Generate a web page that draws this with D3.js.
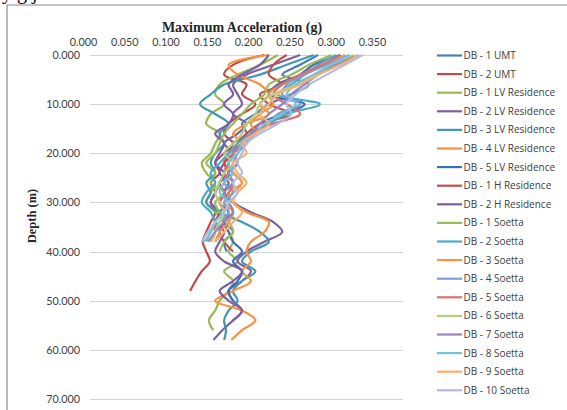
<!DOCTYPE html>
<html>
<head>
<meta charset="utf-8">
<script src="https://cdn.jsdelivr.net/npm/d3@7"></script>
<style>
  body { margin: 0; background: #fff; }
  svg { display: block; }
</style>
</head>
<body>
<div id="chart"></div>
<script>
/* CONSTANTS */
const width = 567,
  height = 410,
  margin = { top: 55, left: 90, right: 164, bottom: 11 };

// depth steps (m) shared by every series, each series stops where its values stop
const depths = [0, 2, 4, 6, 8, 10, 12, 14, 16, 18, 20, 22, 24, 26, 28, 30, 32, 34, 36, 38,
  40, 42, 44, 46, 48, 50, 52, 54, 56, 58];

const seriesNames = ["DB - 1 UMT", "DB - 2 UMT", "DB - 1 LV Residence", "DB - 2 LV Residence",
  "DB - 3 LV Residence", "DB - 4 LV Residence", "DB - 5 LV Residence", "DB - 1 H Residence",
  "DB - 2 H Residence", "DB - 1 Soetta", "DB - 2 Soetta", "DB - 3 Soetta", "DB - 4 Soetta",
  "DB - 5 Soetta", "DB - 6 Soetta", "DB - 7 Soetta", "DB - 8 Soetta", "DB - 9 Soetta",
  "DB - 10 Soetta"];

const seriesColors = ["#4a7ebb", "#be4b48", "#98b954", "#7d60a0", "#4198af", "#f69240",
  "#3c6fb6", "#c0504d", "#7b5ea3", "#9bbb59", "#49acc6", "#f79646", "#7e9fd4", "#d9706d",
  "#b5cf82", "#9a85b8", "#72c4dc", "#f9ae71", "#aebee0"];

// max acceleration (g) at each depth step
const db1UMT = [0.255, 0.235, 0.215, 0.245, 0.225, 0.2, 0.185, 0.17, 0.175, 0.16, 0.155, 0.15, 0.16, 0.145, 0.15, 0.155, 0.145, 0.15, 0.16, 0.15, 0.153];
const db2UMT = [0.195, 0.16, 0.15, 0.175, 0.17, 0.185, 0.17, 0.155, 0.15, 0.16, 0.15, 0.14, 0.145, 0.135, 0.14, 0.135, 0.14, 0.135, 0.13, 0.126, 0.13, 0.134, 0.125, 0.118, 0.112];
const db1LV = [0.21, 0.19, 0.165, 0.145, 0.14, 0.15, 0.135, 0.13, 0.145, 0.14, 0.135, 0.125, 0.13, 0.14, 0.135, 0.13, 0.14, 0.15, 0.155, 0.16, 0.155, 0.165, 0.15, 0.16, 0.155, 0.145, 0.14, 0.133, 0.138];
const db2LV = [0.235, 0.205, 0.175, 0.16, 0.165, 0.17, 0.16, 0.175, 0.165, 0.15, 0.16, 0.15, 0.145, 0.155, 0.15, 0.16, 0.18, 0.205, 0.215, 0.195, 0.175, 0.165, 0.18, 0.17, 0.155, 0.16, 0.17, 0.16, 0.148, 0.138];
const db3LV = [0.25, 0.22, 0.19, 0.15, 0.135, 0.123, 0.14, 0.155, 0.145, 0.15, 0.14, 0.135, 0.14, 0.13, 0.135, 0.13, 0.145, 0.17, 0.19, 0.2, 0.18, 0.17, 0.185, 0.17, 0.16, 0.165, 0.155, 0.15, 0.152, 0.15];
const db4LV = [0.2, 0.155, 0.165, 0.19, 0.2, 0.19, 0.2, 0.175, 0.16, 0.17, 0.155, 0.15, 0.16, 0.17, 0.155, 0.16, 0.175, 0.2, 0.195, 0.18, 0.175, 0.18, 0.17, 0.18, 0.16, 0.14, 0.17, 0.185, 0.17, 0.158];
const db5LV = [0.28, 0.25, 0.235, 0.21, 0.2, 0.24, 0.215, 0.19, 0.18, 0.17, 0.16, 0.165, 0.155, 0.16, 0.15, 0.155, 0.16, 0.15, 0.155, 0.16, 0.17, 0.16, 0.17, 0.165, 0.155, 0.16];
const db1H = [0.22, 0.205, 0.2, 0.215, 0.19, 0.2, 0.225, 0.19, 0.175, 0.165, 0.16, 0.15, 0.155, 0.145, 0.15, 0.145, 0.155, 0.15, 0.145, 0.15, 0.16];
const db2H = [0.2, 0.19, 0.17, 0.155, 0.16, 0.15, 0.16, 0.155, 0.14, 0.15, 0.145, 0.14, 0.15, 0.145, 0.14, 0.135, 0.145, 0.14, 0.15, 0.145, 0.14, 0.15, 0.17, 0.16, 0.145, 0.155, 0.17, 0.16];
const db1S = [0.27, 0.245, 0.225, 0.2, 0.195, 0.18, 0.17, 0.16, 0.15, 0.145, 0.14, 0.13, 0.14, 0.135, 0.15, 0.14, 0.145, 0.155, 0.16, 0.15, 0.145];
const db2S = [0.275, 0.255, 0.24, 0.225, 0.21, 0.257, 0.22, 0.2, 0.18, 0.165, 0.155, 0.145, 0.135, 0.14, 0.13, 0.125, 0.135, 0.14, 0.145, 0.14];
const db3S = [0.285, 0.26, 0.24, 0.215, 0.2, 0.205, 0.19, 0.18, 0.185, 0.17, 0.165, 0.155, 0.16, 0.17, 0.16, 0.15, 0.16, 0.155, 0.145, 0.14];
const db4S = [0.29, 0.265, 0.24, 0.22, 0.215, 0.235, 0.21, 0.2, 0.185, 0.175, 0.165, 0.16, 0.155, 0.15, 0.16, 0.15, 0.155, 0.145, 0.135, 0.13];
const db5S = [0.28, 0.26, 0.235, 0.215, 0.205, 0.22, 0.235, 0.205, 0.18, 0.175, 0.16, 0.155, 0.15, 0.16, 0.155, 0.145, 0.15, 0.14, 0.14, 0.135];
const db6S = [0.295, 0.27, 0.25, 0.23, 0.205, 0.19, 0.185, 0.175, 0.17, 0.16, 0.15, 0.16, 0.15, 0.145, 0.14, 0.145, 0.15, 0.145, 0.14, 0.135];
const db7S = [0.3, 0.275, 0.255, 0.24, 0.225, 0.215, 0.2, 0.19, 0.18, 0.17, 0.16, 0.165, 0.155, 0.16, 0.15, 0.155, 0.16, 0.15, 0.14, 0.132];
const db8S = [0.29, 0.27, 0.25, 0.23, 0.22, 0.23, 0.215, 0.195, 0.185, 0.17, 0.165, 0.155, 0.16, 0.15, 0.145, 0.155, 0.15, 0.14, 0.135, 0.128];
const db9S = [0.3, 0.28, 0.255, 0.235, 0.21, 0.2, 0.19, 0.2, 0.185, 0.17, 0.175, 0.16, 0.165, 0.175, 0.165, 0.16, 0.17, 0.16, 0.15, 0.14];
const db10S = [0.305, 0.285, 0.265, 0.245, 0.23, 0.22, 0.225, 0.21, 0.19, 0.175, 0.17, 0.165, 0.17, 0.16, 0.165, 0.155, 0.15, 0.14, 0.132, 0.125];

const seriesValues = [db1UMT, db2UMT, db1LV, db2LV, db3LV, db4LV, db5LV, db1H, db2H,
  db1S, db2S, db3S, db4S, db5S, db6S, db7S, db8S, db9S, db10S];

const xTicks = [0, 0.05, 0.1, 0.15, 0.2, 0.25, 0.3, 0.35];
const yTicks = [0, 10, 20, 30, 40, 50, 60, 70];

/* SCALES */
const xScale = d3.scaleLinear().domain([0, 0.35]).range([margin.left, width - margin.right]);
// the printed tick labels sit a little off the plot grid in the original
const xLabelScale = d3.scaleLinear().domain([0, 0.35]).range([83, 372]);
const yScale = d3.scaleLinear().domain([0, 70]).range([margin.top, height - margin.bottom]);

const svg = d3.select("#chart").append("svg")
  .attr("width", width)
  .attr("height", height);

// cut off line of document text above the figure
svg.append("text")
  .attr("x", 2).attr("y", -1)
  .attr("font-family", "Liberation Serif")
  .attr("font-size", 20)
  .text("y     g                                                 j");

// frame
svg.append("path")
  .attr("d", `M7,${height} V5 H${width}`)
  .attr("fill", "none")
  .attr("stroke", "#8c8c8c")
  .attr("stroke-width", 1.2);

// gridlines
svg.append("g")
  .selectAll("line")
  .data(yTicks)
  .join("line")
  .attr("x1", xScale(0))
  .attr("x2", xScale(0.35))
  .attr("y1", d => Math.round(yScale(d)) + 0.5)
  .attr("y2", d => Math.round(yScale(d)) + 0.5)
  .attr("stroke", "#d4d4d4");

// top axis labels
const xAxis = d3.axisTop(xLabelScale).tickValues(xTicks).tickSize(0).tickPadding(0)
  .tickFormat(d3.format(".3f"));
svg.append("g")
  .attr("transform", "translate(0,46)")
  .call(xAxis)
  .call(g => g.select(".domain").remove())
  .selectAll("text")
  .attr("font-family", "Lato")
  .attr("font-size", 10.8)
  .attr("fill", "#404040");

const yAxis = d3.axisLeft(yScale).tickValues(yTicks).tickSize(0).tickPadding(0)
  .tickFormat(d3.format(".3f"));
svg.append("g")
  .attr("transform", "translate(80,0)")
  .call(yAxis)
  .call(g => g.select(".domain").remove())
  .selectAll("text")
  .attr("font-family", "Lato")
  .attr("font-size", 10.8)
  .attr("fill", "#404040");

// titles
svg.append("text")
  .attr("x", 242).attr("y", 32)
  .attr("text-anchor", "middle")
  .attr("font-family", "Liberation Serif")
  .attr("font-weight", "bold")
  .attr("font-size", 14)
  .attr("fill", "#262626")
  .text("Maximum Acceleration (g)");

svg.append("text")
  .attr("transform", "translate(36,216) rotate(-90)")
  .attr("text-anchor", "middle")
  .attr("font-family", "Liberation Serif")
  .attr("font-weight", "bold")
  .attr("font-size", 12.5)
  .attr("fill", "#262626")
  .text("Depth (m)");

/* LINES */
const line = d3.line()
  .x(d => xScale(d[0]))
  .y(d => yScale(d[1]))
  .curve(d3.curveCatmullRom.alpha(0.5));

const series = seriesNames.map((name, i) => ({
  name,
  color: seriesColors[i],
  points: seriesValues[i].map((v, j) => [v, depths[j]])
}));

svg.append("g")
  .selectAll("path")
  .data(series)
  .join("path")
  .attr("d", d => line(d.points))
  .attr("fill", "none")
  .attr("stroke", d => d.color)
  .attr("stroke-width", 2.2)
  .attr("stroke-linejoin", "round");

/* LEGEND */
const legend = svg.append("g")
  .selectAll("g")
  .data(series)
  .join("g")
  .attr("transform", (d, i) => `translate(437,${55.5 + i * 18.6})`);

legend.append("line")
  .attr("x1", 0).attr("x2", 25)
  .attr("stroke", d => d.color)
  .attr("stroke-width", 2.2);

legend.append("text")
  .attr("x", 26.5)
  .attr("dy", "0.35em")
  .attr("font-family", "Open Sans")
  .attr("font-size", 10)
  .attr("fill", "#404040")
  .text(d => d.name);
</script>
</body>
</html>
